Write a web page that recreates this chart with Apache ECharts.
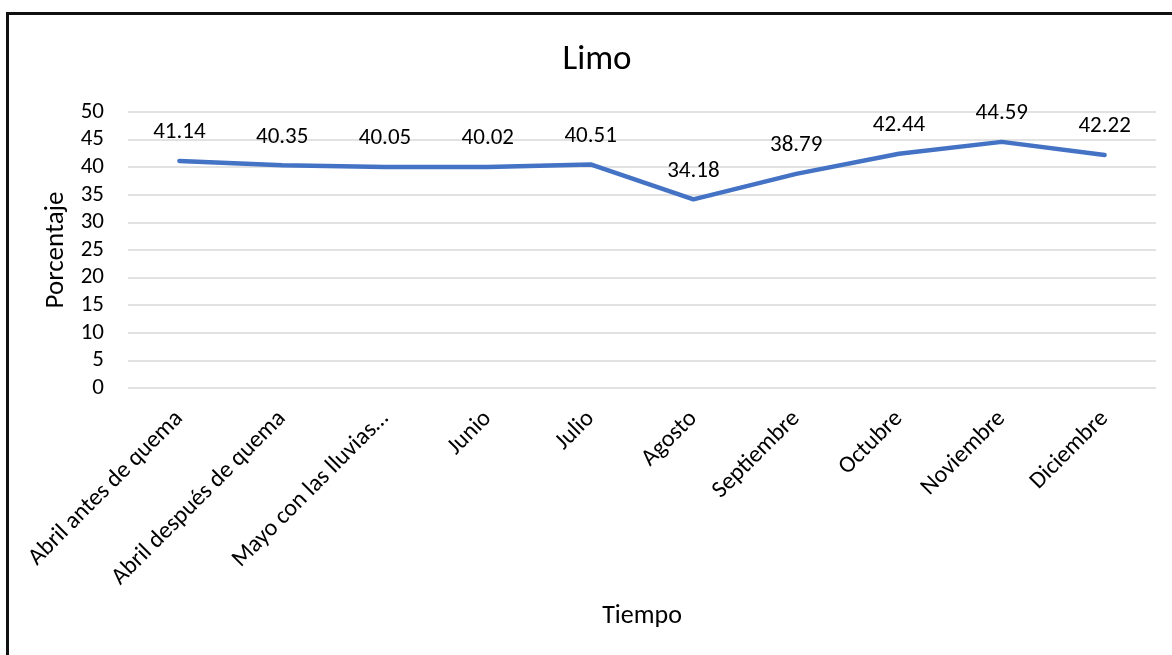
<!DOCTYPE html>
<html>
<head>
<meta charset="utf-8">
<script src="https://cdn.jsdelivr.net/npm/echarts@6/dist/echarts.min.js"></script>
<style>
  html, body { margin: 0; padding: 0; background: #fff; overflow: hidden; }
  #frame { position: absolute; left: 6px; top: 12px; width: 1200px; height: 700px;
           border-top: 3px solid #111; border-left: 3px solid #111; box-sizing: border-box; }
  #chart { position: absolute; left: 0; top: 0; width: 1172px; height: 655px; }
</style>
</head>
<body>
<div id="frame"></div>
<div id="chart"></div>
<script>
// Monthly silt percentage (Limo)
const categories = [
  'Abril antes de quema',
  'Abril después de quema',
  'Mayo con las lluvias…',
  'Junio',
  'Julio',
  'Agosto',
  'Septiembre',
  'Octubre',
  'Noviembre',
  'Diciembre'
];
const limo = [41.14, 40.35, 40.05, 40.02, 40.51, 34.18, 38.79, 42.44, 44.59, 42.22];
const yTicks = { min: 0, max: 50, interval: 5 };

const font = 'Carlito, "Open Sans", "Noto Sans", sans-serif';
const chart = echarts.init(document.getElementById('chart'), null, { renderer: 'canvas' });

chart.setOption({
  animation: false,
  backgroundColor: 'transparent',
  title: {
    text: 'Limo',
    left: 592,
    top: 38,
    textAlign: 'center',
    textStyle: { fontFamily: font, fontSize: 35, fontWeight: 'normal', color: '#000' }
  },
  grid: { left: 128, right: 16, top: 112, bottom: 267 },
  xAxis: {
    type: 'category',
    data: categories,
    boundaryGap: true,
    name: 'Tiempo',
    nameLocation: 'middle',
    nameGap: 215,
    nameTextStyle: { fontFamily: font, fontSize: 26, color: '#000' },
    axisLine: { show: false },
    axisTick: { show: false },
    axisLabel: {
      rotate: 45,
      interval: 0,
      margin: 27,
      fontFamily: font,
      fontSize: 24,
      color: '#000'
    }
  },
  yAxis: {
    type: 'value',
    min: yTicks.min,
    max: yTicks.max,
    interval: yTicks.interval,
    name: 'Porcentaje',
    nameLocation: 'middle',
    nameGap: 47,
    nameRotate: 90,
    nameTextStyle: { fontFamily: font, fontSize: 27, color: '#000' },
    axisLine: { show: false },
    axisTick: { show: false },
    axisLabel: { margin: 24, fontFamily: font, fontSize: 23, color: '#000' },
    splitLine: { lineStyle: { color: '#d9d9d9', width: 1.5 } }
  },
  series: [{
    type: 'line',
    data: limo,
    showSymbol: true,
    symbol: 'circle',
    symbolSize: 0,
    itemStyle: { color: '#4472C4', opacity: 0 },
    lineStyle: { color: '#4472C4', width: 4.5, cap: 'round', join: 'round' },
    label: {
      show: true,
      position: 'top',
      distance: 17,
      fontFamily: font,
      fontSize: 23,
      color: '#000',
      opacity: 1,
      formatter: p => p.value.toFixed(2)
    }
  }]
});
</script>
</body>
</html>
